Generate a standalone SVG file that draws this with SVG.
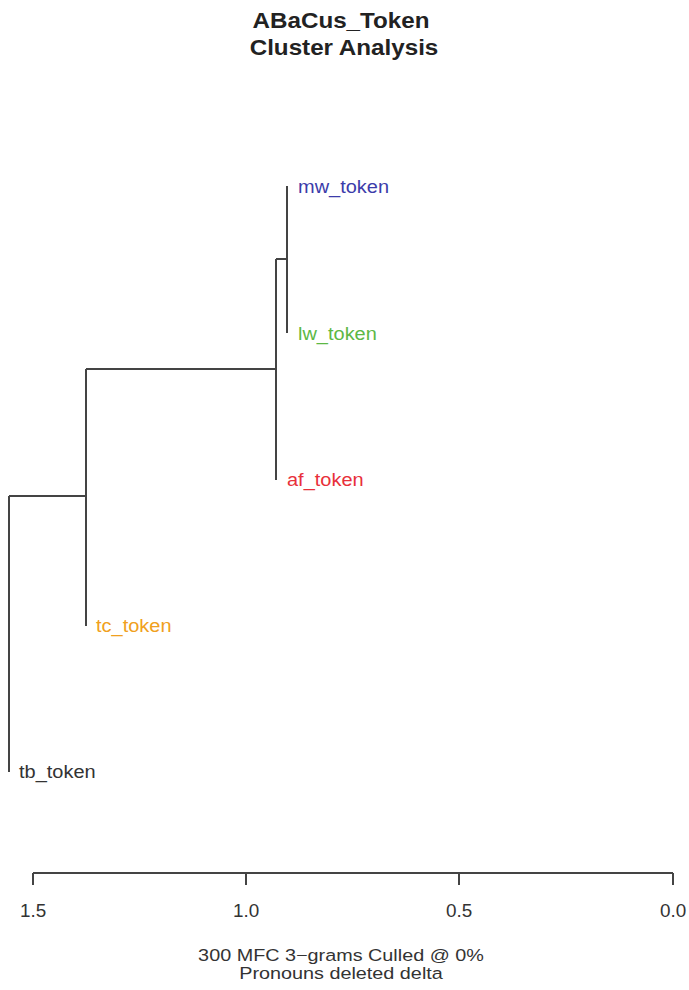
<svg xmlns="http://www.w3.org/2000/svg" width="689" height="990" viewBox="0 0 689 990">
<style>
.t{font-family:"Liberation Sans",Arial,sans-serif;font-size:22px;font-weight:bold;fill:#222;text-anchor:middle}
.lab{font-family:"Liberation Sans",Arial,sans-serif;font-size:18.5px}
.ax{font-family:"Liberation Sans",Arial,sans-serif;font-size:18px;fill:#333;text-anchor:middle}
.sub{font-family:"Liberation Sans",Arial,sans-serif;font-size:16.5px;fill:#333;text-anchor:middle}
.e{stroke:#444;stroke-width:2;fill:none}
</style>
<rect width="689" height="990" fill="#fff"/>
<g id="title">
<text class="t" transform="translate(341,28) scale(1.1,1)">ABaCus_Token</text>
<text class="t" transform="translate(344,55) scale(1.1,1)">Cluster Analysis</text>
</g>
<g id="connectors">
<path class="e" d="M287,186 V333 M276,259 H287 M276,259 V480 M86,369 H276 M86,369 V626 M9,496 H86 M9,496 V772"/>
</g>
<g id="mw_token"><text class="lab" transform="translate(298,193) scale(1.08,1)" fill="#3c3caa">mw_token</text></g>
<g id="lw_token"><text class="lab" transform="translate(298,340) scale(1.08,1)" fill="#5cb845">lw_token</text></g>
<g id="af_token"><text class="lab" transform="translate(287,486) scale(1.08,1)" fill="#e8303a">af_token</text></g>
<g id="tc_token"><text class="lab" transform="translate(96,632) scale(1.08,1)" fill="#f0a020">tc_token</text></g>
<g id="tb_token"><text class="lab" transform="translate(19,778) scale(1.08,1)" fill="#333">tb_token</text></g>
<g id="axis">
<path class="e" d="M33,873 H673 M33,873 V885 M246,873 V885 M459,873 V885 M673,873 V885"/>
<text class="ax" transform="translate(33,917) scale(1.05,1)">1.5</text>
<text class="ax" transform="translate(246,917) scale(1.05,1)">1.0</text>
<text class="ax" transform="translate(459,917) scale(1.05,1)">0.5</text>
<text class="ax" transform="translate(673,917) scale(1.05,1)">0.0</text>
<text class="sub" transform="translate(341,961) scale(1.2,1)">300 MFC 3−grams Culled @ 0%</text>
<text class="sub" transform="translate(341,979) scale(1.2,1)">Pronouns deleted delta</text>
</g>
</svg>
